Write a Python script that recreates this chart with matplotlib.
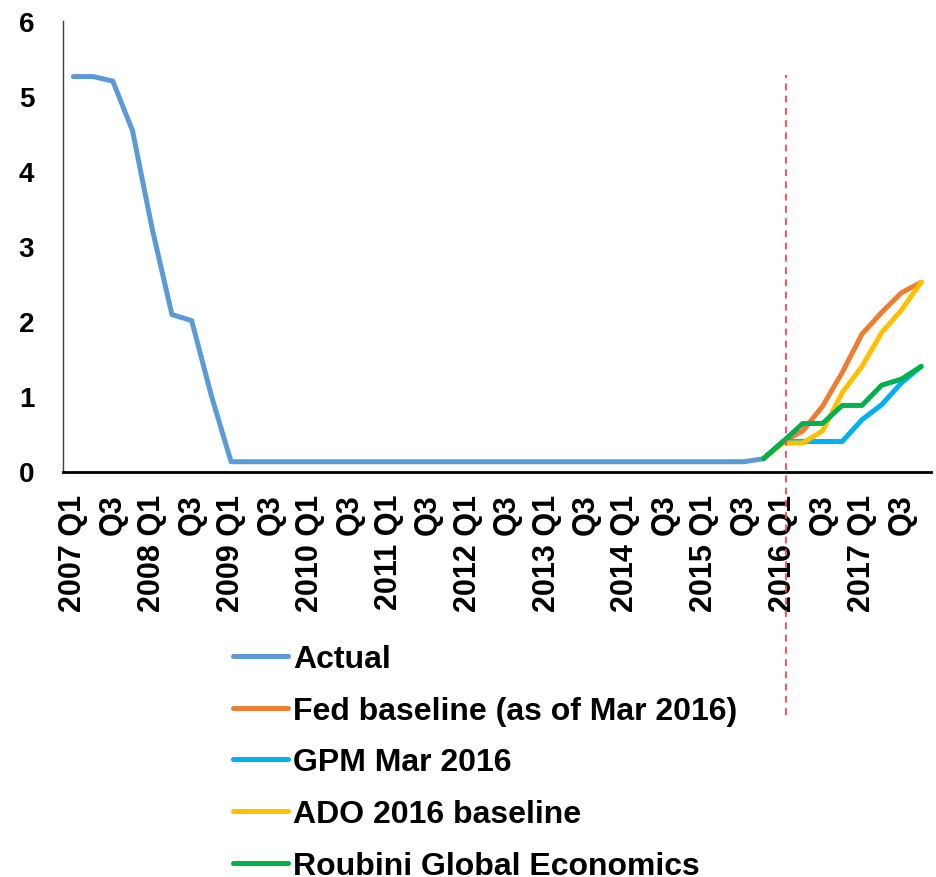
import matplotlib
matplotlib.use("Agg")
import matplotlib.pyplot as plt

plt.rcParams['font.family'] = ['Liberation Sans', 'DejaVu Sans']
plt.rcParams['font.weight'] = 'bold'

years = list(range(2007, 2018))
quarters = [f"{y} Q{q}" for y in years for q in range(1, 5)]  # 2007 Q1 .. 2017 Q4

# Actual policy rate, 2007 Q1 .. 2015 Q4
actual = [5.26, 5.26, 5.20, 4.54, 3.23, 2.09, 2.01, 1.01,
          0.13, 0.13, 0.13, 0.13, 0.13, 0.13, 0.13, 0.13,
          0.13, 0.13, 0.13, 0.13, 0.13, 0.13, 0.13, 0.13,
          0.13, 0.13, 0.13, 0.13, 0.13, 0.13, 0.13, 0.13,
          0.13, 0.13, 0.13, 0.17]

# Forecasts, 2015 Q4 .. 2017 Q4
forecast_start = "2015 Q4"
fed = [0.17, 0.40, 0.54, 0.87, 1.32, 1.83, 2.12, 2.38, 2.52]
gpm = [0.17, 0.40, 0.40, 0.40, 0.40, 0.69, 0.89, 1.18, 1.40]
ado = [0.17, 0.38, 0.38, 0.54, 1.05, 1.40, 1.85, 2.15, 2.52]
roubini = [0.17, 0.40, 0.64, 0.64, 0.88, 0.88, 1.15, 1.23, 1.40]

series_names = ["Actual", "Fed baseline (as of Mar 2016)", "GPM Mar 2016",
                "ADO 2016 baseline", "Roubini Global Economics"]
colors = ["#5B9BD5", "#ED7D31", "#00B0F0", "#FFC000", "#00B050"]

tick_labels = []
for q in quarters:
    y, qq = q.split()
    if qq == "Q1":
        tick_labels.append(q)
    elif qq == "Q3":
        tick_labels.append("Q3")
    else:
        tick_labels.append("")

W, H = 936, 878
fig = plt.figure(figsize=(W / 100, H / 100), dpi=100)
ax = fig.add_axes([63.5 / W, 1 - 472.5 / H, (931 - 63.5) / W, (472.5 - 22) / H])

x_all = list(range(len(quarters)))
s0 = quarters.index(forecast_start)
x_fc = x_all[s0:s0 + len(fed)]

kw = dict(lw=3.6, solid_capstyle='round', solid_joinstyle='round', clip_on=False)
ax.plot(x_all[:len(actual)], actual, color=colors[0], label=series_names[0], **kw)
for vals, name, c in zip([fed, gpm, ado, roubini], series_names[1:], colors[1:]):
    ax.plot(x_fc, vals, color=c, label=name, **kw)

# vertical marker at 2016 Q1
vx = quarters.index("2016 Q1") + 0.15
ax.axvline(vx, ymin=-0.54, ymax=0.88, color="#FF4040", lw=1.4,
           dashes=(3.5, 2.8), clip_on=False, alpha=0.9)

ax.set_xlim(-0.5, len(quarters) - 0.5)
ax.set_ylim(0, 6)
ax.set_yticks(range(0, 7))
ax.set_xticks(x_all)
ax.set_xticklabels(tick_labels, rotation=90, fontsize=22, fontweight='bold')
ax.tick_params(axis='x', length=0, pad=16)
ax.tick_params(axis='y', length=0, pad=21, labelsize=20)
for lab in ax.get_yticklabels():
    lab.set_fontweight('bold')

for s in ['top', 'right']:
    ax.spines[s].set_visible(False)
ax.spines['left'].set_linewidth(1.0)
ax.spines['left'].set_color('#404040')
ax.spines['bottom'].set_linewidth(2.0)
ax.spines['bottom'].set_color('black')

leg = fig.legend(loc='upper left', bbox_to_anchor=(232.5 / W, 1 - 645 / H),
                 frameon=False, prop={'size': 23, 'weight': 'bold'},
                 handlelength=1.74, handletextpad=0.16, labelspacing=0.68,
                 borderpad=0, borderaxespad=0)
for h in leg.get_lines():
    h.set_linewidth(3.6)
    h.set_solid_capstyle('round')

fig.savefig("out.png", dpi=100)
